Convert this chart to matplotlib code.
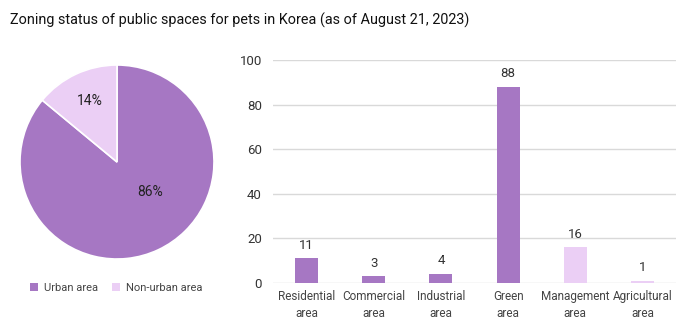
import matplotlib.pyplot as plt
import numpy as np
from matplotlib.patches import Patch

plt.rcParams['font.family'] = ['Roboto', 'DejaVu Sans']

pie_labels = ["Urban area", "Non-urban area"]
pie_values = [86, 14]
pie_colors = ["#a677c3", "#ebcff5"]

categories = ["Residential\narea", "Commercial\narea", "Industrial\narea",
              "Green\narea", "Management\narea", "Agricultural\narea"]
counts = [11, 3, 4, 88, 16, 1]
bar_colors = ["#a677c3", "#a677c3", "#a677c3", "#a677c3", "#ebcff5", "#ebcff5"]

fig = plt.figure(figsize=(7, 3.33), dpi=100)
fig.text(0.014, 0.94, "Zoning status of public spaces for pets in Korea (as of August 21, 2023)",
         fontsize=10.4, color="#111111", va="center", ha="left")

# Pie
ax1 = fig.add_axes([20/700, 0.222, 194/700, 0.583])
wedges, texts = ax1.pie(pie_values, colors=pie_colors, startangle=90, counterclock=False,
                        wedgeprops=dict(edgecolor="white", linewidth=1.2))
# label placement (the big slice's label sits nearer the lower right)
label_pos = [(0.46, -42), (0.69, 114)]
for (r, a), v in zip(label_pos, pie_values):
    ang = np.deg2rad(a)
    ax1.text(r * np.cos(ang), r * np.sin(ang), f"{v}%", ha="center", va="center",
             fontsize=10, color="#222222")
ax1.set_xlim(-1, 1)
ax1.set_ylim(-1, 1)
ax1.set_aspect("equal")

handles = [Patch(facecolor=c, edgecolor="none") for c in pie_colors]
fig.legend(handles, pie_labels, loc="center left", bbox_to_anchor=(0.028, 0.135),
           ncol=2, frameon=False, fontsize=8, handlelength=0.8, handleheight=0.8,
           handletextpad=0.5, columnspacing=1.2, labelcolor="#444444")

# Bars
ax2 = fig.add_axes([273/700, 50/333, 403/700, 223/333])
x = np.arange(len(categories))
bars = ax2.bar(x, counts, width=0.34, color=bar_colors, zorder=3)
for b, v in zip(bars, counts):
    ax2.text(b.get_x() + b.get_width() / 2, v + 3, str(v), ha="center", va="bottom",
             fontsize=9.5, color="#333333")
ax2.set_ylim(0, 100)
ax2.set_xlim(-0.5, len(categories) - 0.5)
ax2.set_yticks([0, 20, 40, 60, 80, 100])
ax2.set_xticks(x)
ax2.set_xticklabels(categories, fontsize=8.5, color="#444444", linespacing=1.4,
                    multialignment="center")
ax2.tick_params(axis="y", labelsize=9.5, labelcolor="#333333", length=0, pad=8)
ax2.tick_params(axis="x", length=0, pad=5)
ax2.grid(axis="y", color="#d9d9d9", linewidth=1, zorder=0)
for s in ax2.spines.values():
    s.set_visible(False)

fig.savefig("out.png", dpi=100)
